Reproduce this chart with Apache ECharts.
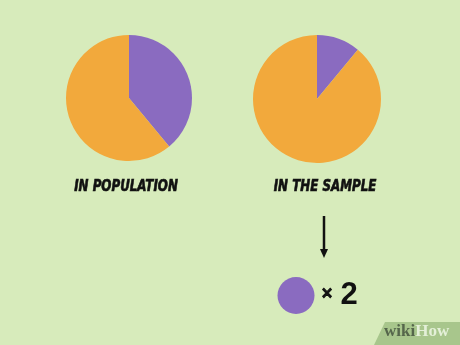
<!DOCTYPE html>
<html>
<head>
<meta charset="utf-8">
<script src="https://cdn.jsdelivr.net/npm/echarts@6/dist/echarts.min.js"></script>
<style>
html,body{margin:0;padding:0;background:#d7ebbb;}
#c{width:460px;height:345px;}
</style>
</head>
<body>
<div id="c"></div>
<script>
const categories = ['Purple', 'Orange'];
const populationValues = [39, 61];
const sampleValues = [11, 89];
const captions = ['IN POPULATION', 'IN THE SAMPLE'];
const multiplierLabel = '2';

const PURPLE = '#8a6bc0';
const ORANGE = '#f2a93c';
const INK = '#111111';
const captionFont = '"Liberation Sans Narrow","DejaVu Sans Condensed","Liberation Sans",sans-serif';

function toData(values) {
  return categories.map((c, i) => ({
    name: c,
    value: values[i],
    itemStyle: { color: i === 0 ? PURPLE : ORANGE }
  }));
}

const chart = echarts.init(document.getElementById('c'), null, { renderer: 'canvas' });
chart.setOption({
  backgroundColor: '#d7ebbb',
  animation: false,
  series: [
    {
      type: 'pie', center: [129, 98], radius: 63, startAngle: 90, clockwise: true,
      label: { show: false }, labelLine: { show: false }, silent: true,
      itemStyle: { borderWidth: 0 },
      data: toData(populationValues)
    },
    {
      type: 'pie', center: [317, 99], radius: 64, startAngle: 90, clockwise: true,
      label: { show: false }, labelLine: { show: false }, silent: true,
      itemStyle: { borderWidth: 0 },
      data: toData(sampleValues)
    }
  ],
  graphic: [
    { type: 'text', x: 126, y: 187, scaleX: 0.88, style: { text: captions[0], fill: INK, stroke: INK, lineWidth: 0.6, font: 'italic bold 15px ' + captionFont, align: 'center', verticalAlign: 'middle' } },
    { type: 'text', x: 325, y: 187, scaleX: 0.88, style: { text: captions[1], fill: INK, stroke: INK, lineWidth: 0.6, font: 'italic bold 15px ' + captionFont, align: 'center', verticalAlign: 'middle' } },
    { type: 'line', shape: { x1: 324, y1: 216, x2: 324, y2: 252 }, style: { stroke: INK, lineWidth: 2.5 } },
    { type: 'polygon', shape: { points: [[320, 249], [328, 249], [324, 258]] }, style: { fill: INK } },
    { type: 'circle', shape: { cx: 296, cy: 295.5, r: 18.5 }, style: { fill: PURPLE } },
    { type: 'text', x: 327, y: 294.5, style: { text: '×', fill: INK, stroke: INK, lineWidth: 1, font: 'bold 15px "DejaVu Sans",sans-serif', align: 'center', verticalAlign: 'middle' } },
    { type: 'text', x: 349, y: 295, style: { text: multiplierLabel, fill: INK, font: 'bold 31px "Liberation Sans",sans-serif', align: 'center', verticalAlign: 'middle' } },
    { type: 'polygon', shape: { points: [[385, 322], [460, 322], [460, 345], [374, 345]] }, style: { fill: '#a8c68c' } },
    { type: 'text', x: 384, y: 340, style: { text: '{a|wiki}{b|How}', rich: {
        a: { fill: '#55664b', font: 'bold 17px "Liberation Serif",serif' },
        b: { fill: '#e4f0d8', font: 'bold 17px "Liberation Serif",serif' }
      }, verticalAlign: 'bottom' } }
  ]
});
</script>
</body>
</html>
